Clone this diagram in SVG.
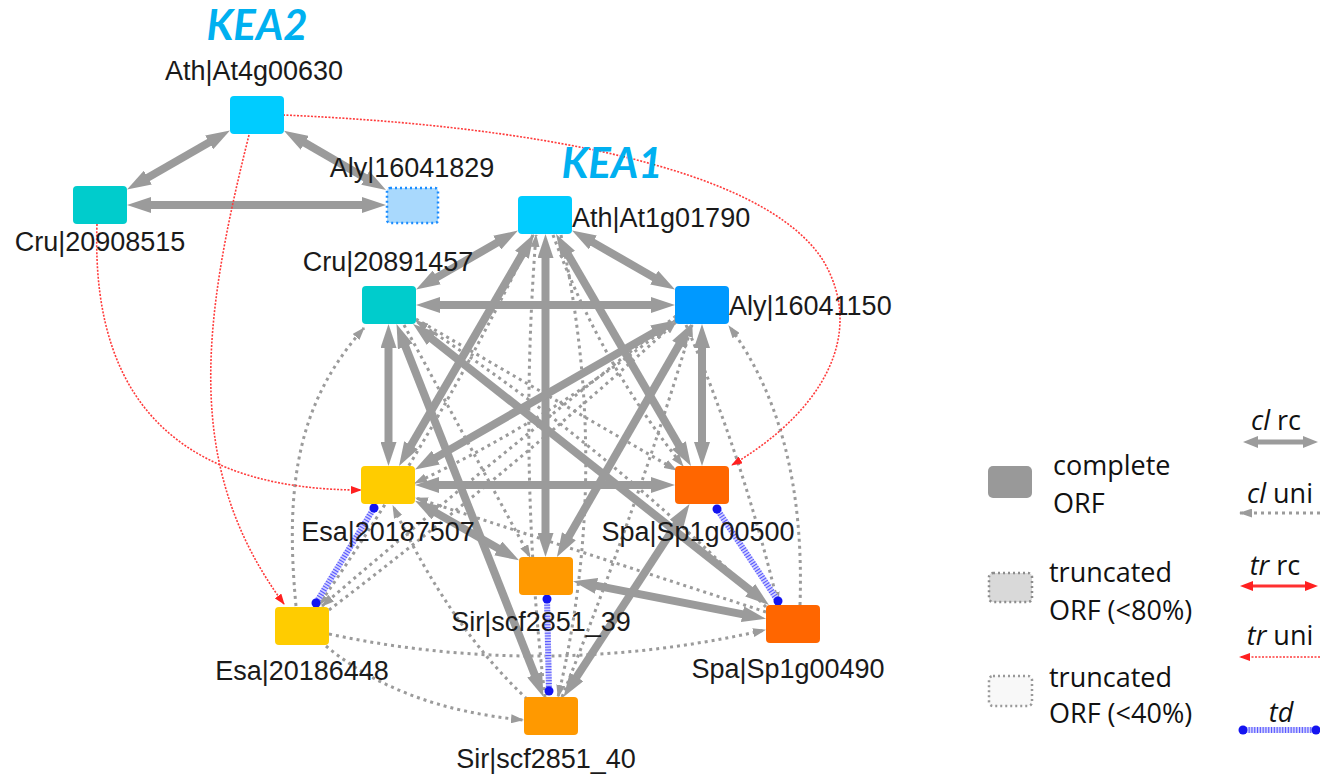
<svg xmlns="http://www.w3.org/2000/svg" width="1320" height="776" viewBox="0 0 1320 776">
<style>
.th{stroke:#9b9b9b;stroke-width:8;fill:none;marker-start:url(#ah);marker-end:url(#ah)}
.dt{stroke:#9b9b9b;stroke-width:3;stroke-dasharray:3 4;fill:none;marker-end:url(#ad)}
.rd{stroke:#ff3b3b;stroke-width:1.6;stroke-dasharray:2 1.5;fill:none;marker-end:url(#ar)}
.tdb{stroke:#d2d2ff;stroke-width:6;fill:none}
.tdh{stroke:#5a5aff;stroke-width:6;stroke-dasharray:1.1 1.7;fill:none}
.dot{fill:#1414f0}
.lbl{font-family:"Liberation Sans",Arial,sans-serif;font-size:27px;fill:#1a1a1a}
.ttl{font-family:Lato,"Liberation Sans",sans-serif;font-size:42px;font-weight:bold;font-style:italic;fill:#00b0f0}
.lg{font-family:"Open Sans","Liberation Sans",sans-serif;font-size:27px;fill:#111}
.cyan{fill:#00ccff}
.teal{fill:#00cccc}
.blue{fill:#0099ff}
.yel{fill:#ffcc00}
.org{fill:#ff6600}
.amb{fill:#ff9900}
</style>
<defs>
<marker id="ah" markerUnits="userSpaceOnUse" viewBox="0 0 24 16" markerWidth="24" markerHeight="16" refX="2" refY="8" orient="auto-start-reverse"><path d="M0,0 L24,8 L0,16 z" fill="#9b9b9b"/></marker>
<marker id="ahs" markerUnits="userSpaceOnUse" viewBox="0 0 15 12" markerWidth="15" markerHeight="12" refX="0" refY="6" orient="auto-start-reverse"><path d="M0,0 L15,6 L0,12 z" fill="#9b9b9b"/></marker>
<marker id="ad" markerUnits="userSpaceOnUse" viewBox="0 0 13 9" markerWidth="13" markerHeight="9" refX="12" refY="4.5" orient="auto"><path d="M0,0 L13,4.5 L0,9 z" fill="#9b9b9b"/></marker>
<marker id="ar" markerUnits="userSpaceOnUse" viewBox="0 0 11 8" markerWidth="11" markerHeight="8" refX="10" refY="4" orient="auto"><path d="M0,0 L11,4 L0,8 z" fill="#ff2020"/></marker>
<marker id="ar2" markerUnits="userSpaceOnUse" viewBox="0 0 13 10" markerWidth="13" markerHeight="10" refX="0" refY="5" orient="auto-start-reverse"><path d="M0,0 L13,5 L0,10 z" fill="#ff2020"/></marker>
</defs>
<rect width="1320" height="776" fill="#ffffff"/>

<g id="connectors">
<g id="cl-uni">
<path class="dt" d="M296,606 C284,480 300,400 364,328"/>
<path class="dt" d="M326,646 Q400,708 523,720"/>
<path class="dt" d="M329,634 Q545,680 765,630"/>
<path class="dt" d="M329,610 Q510,472 676,322"/>
<path class="dt" d="M676,316 Q494,458 322,606"/>
<path class="dt" d="M527,699 Q450,627 393,506"/>
<path class="dt" d="M404,325 L530,557"/>
<path class="dt" d="M416,319 L676,470"/>
<path class="dt" d="M533,235 Q440,430 318,606"/>
<path class="dt" d="M800,605 Q806,430 729,326"/>
<path class="dt" d="M686,325 Q742,455 778,604"/>
<path class="dt" d="M553,235 Q600,362 683,466"/>
<path class="dt" d="M766,612 L416,498"/>
<path class="dt" d="M562,697 Q640,500 692,325"/>
<path class="dt" d="M561,235 Q612,470 558,697"/>
<path class="dt" d="M545,697 Q518,470 536,235"/>
<path class="dt" d="M766,607 Q600,440 416,321"/>
<path class="dt" d="M676,320 Q550,420 415,483"/>
</g>
<g id="cl-rc">
<path class="th" d="M210.9,141.4 L146.1,178.6"/>
<path class="th" d="M303,141.8 L367,178.9"/>
<path class="th" d="M149,205 L364,205"/>
<path class="th" d="M498.9,241.6 L435.1,278.4"/>
<path class="th" d="M591.1,241.4 L655.9,278.6"/>
<path class="th" d="M522.9,253 L410.1,447"/>
<path class="th" d="M567.1,253 L679.9,447"/>
<path class="th" d="M545.5,256 L545.5,535"/>
<path class="th" d="M438,305 L653,305"/>
<path class="th" d="M388.5,346 L388.5,444"/>
<path class="th" d="M404.6,344.5 L535.4,676.5"/>
<path class="th" d="M430.3,337.6 L751.7,591.4"/>
<path class="th" d="M702,346 L702,444"/>
<path class="th" d="M655.9,331.4 L434.1,458.6"/>
<path class="th" d="M680.1,343.1 L567.9,537.9"/>
<path class="th" d="M437,485 L653,485"/>
<path class="th" d="M434.1,511.6 L499.9,549.4"/>
<path class="th" d="M677.5,522.4 L575.5,678.6"/>
<path class="th" d="M594.6,585.4 L744.4,614.6"/>
</g>
<g id="tr-uni">
<path class="rd" d="M283,115 C520,125 765,165 824,262 C866,335 822,412 732,465"/>
<path class="rd" d="M249,135 C200,330 185,470 284,604"/>
<path class="rd" d="M97,224 C90,420 200,490 361,490"/>
</g>
<g id="td">
<path class="tdb" d="M374,508 L316,603"/><path class="tdh" d="M374,508 L316,603"/>
<circle class="dot" cx="374" cy="508" r="4.5"/><circle class="dot" cx="316" cy="603" r="4.5"/>
<path class="tdb" d="M717,509 L778,601"/><path class="tdh" d="M717,509 L778,601"/>
<circle class="dot" cx="717" cy="509" r="4.5"/><circle class="dot" cx="778" cy="601" r="4.5"/>
<path class="tdb" d="M547,599 L549,691"/><path class="tdh" d="M547,599 L549,691"/>
<circle class="dot" cx="547" cy="599" r="4.5"/><circle class="dot" cx="549" cy="691" r="4.5"/>
</g>
</g>

<g id="titles">
<text class="ttl" x="257" y="40" text-anchor="middle">KEA2</text>
<text class="ttl" x="612" y="178" text-anchor="middle">KEA1</text>
</g>

<g id="node-Ath-At4g00630"><rect class="cyan" x="230" y="96" width="54" height="38" rx="4"/><text class="lbl" x="254" y="80" text-anchor="middle">Ath|At4g00630</text></g>
<g id="node-Cru-20908515"><rect class="teal" x="73" y="186" width="54" height="38" rx="4"/><text class="lbl" x="100" y="251" text-anchor="middle">Cru|20908515</text></g>
<g id="node-Aly-16041829"><rect x="387" y="188" width="51" height="35" rx="3" fill="#a9d9fd" stroke="#1a8cff" stroke-width="2.5" stroke-dasharray="2 3"/><text class="lbl" x="412" y="177" text-anchor="middle">Aly|16041829</text></g>
<g id="node-Ath-At1g01790"><rect class="cyan" x="518" y="196" width="54" height="38" rx="4"/><text class="lbl" x="572" y="227">Ath|At1g01790</text></g>
<g id="node-Cru-20891457"><rect class="teal" x="362" y="286" width="54" height="38" rx="4"/><text class="lbl" x="388" y="271" text-anchor="middle">Cru|20891457</text></g>
<g id="node-Aly-16041150"><rect class="blue" x="675" y="286" width="54" height="38" rx="4"/><text class="lbl" x="729" y="315">Aly|16041150</text></g>
<g id="node-Esa-20187507"><rect class="yel" x="361" y="466" width="54" height="38" rx="4"/><text class="lbl" x="388" y="541" text-anchor="middle">Esa|20187507</text></g>
<g id="node-Spa-Sp1g00500"><rect class="org" x="675" y="466" width="54" height="38" rx="4"/><text class="lbl" x="698" y="541" text-anchor="middle">Spa|Sp1g00500</text></g>
<g id="node-Sir-scf2851_39"><rect class="amb" x="519" y="557" width="54" height="38" rx="4"/><text class="lbl" x="541" y="631" text-anchor="middle">Sir|scf2851_39</text></g>
<g id="node-Spa-Sp1g00490"><rect class="org" x="766" y="605" width="54" height="38" rx="4"/><text class="lbl" x="788" y="678" text-anchor="middle">Spa|Sp1g00490</text></g>
<g id="node-Esa-20186448"><rect class="yel" x="275" y="607" width="54" height="38" rx="4"/><text class="lbl" x="302" y="680" text-anchor="middle">Esa|20186448</text></g>
<g id="node-Sir-scf2851_40"><rect class="amb" x="524" y="697" width="54" height="38" rx="4"/><text class="lbl" x="546" y="768" text-anchor="middle">Sir|scf2851_40</text></g>

<g id="legend">
<rect x="988" y="466" width="44" height="32" rx="5" fill="#999999"/>
<text class="lg" x="1053" y="475">complete</text>
<text class="lg" x="1053" y="513">ORF</text>
<rect x="989" y="573" width="43" height="29" rx="4" fill="#d9d9d9" stroke="#8c8c8c" stroke-width="2.5" stroke-dasharray="2 3"/>
<text class="lg" x="1049" y="582">truncated</text>
<text class="lg" x="1049" y="620">ORF (&lt;80%)</text>
<rect x="989" y="676" width="43" height="30" rx="4" fill="#f8f8f8" stroke="#999999" stroke-width="2.5" stroke-dasharray="2 3"/>
<text class="lg" x="1049" y="687">truncated</text>
<text class="lg" x="1049" y="723">ORF (&lt;40%)</text>
<text class="lg" x="1276" y="430" text-anchor="middle"><tspan font-style="italic">cl</tspan> rc</text>
<path d="M1258,442 L1303,442" stroke="#9b9b9b" stroke-width="5" fill="none" marker-start="url(#ahs)" marker-end="url(#ahs)"/>
<text class="lg" x="1280" y="503" text-anchor="middle"><tspan font-style="italic">cl</tspan> uni</text>
<path d="M1320,513 L1240,513" class="dt" stroke-width="2.5"/>
<text class="lg" x="1275" y="575" text-anchor="middle"><tspan font-style="italic">tr</tspan> rc</text>
<path d="M1253,586 L1305,586" stroke="#ff3030" stroke-width="3" fill="none" marker-start="url(#ar2)" marker-end="url(#ar2)"/>
<text class="lg" x="1280" y="645" text-anchor="middle"><tspan font-style="italic">tr</tspan> uni</text>
<path d="M1320,657 L1240,657" class="rd" stroke-width="2"/>
<text class="lg" x="1281" y="722" text-anchor="middle" font-style="italic">td</text>
<path class="tdb" d="M1243,730 L1316,730"/><path class="tdh" d="M1243,730 L1316,730"/>
<circle class="dot" cx="1243" cy="730" r="4.5"/><circle class="dot" cx="1316" cy="730" r="4.5"/>
</g>
</svg>
